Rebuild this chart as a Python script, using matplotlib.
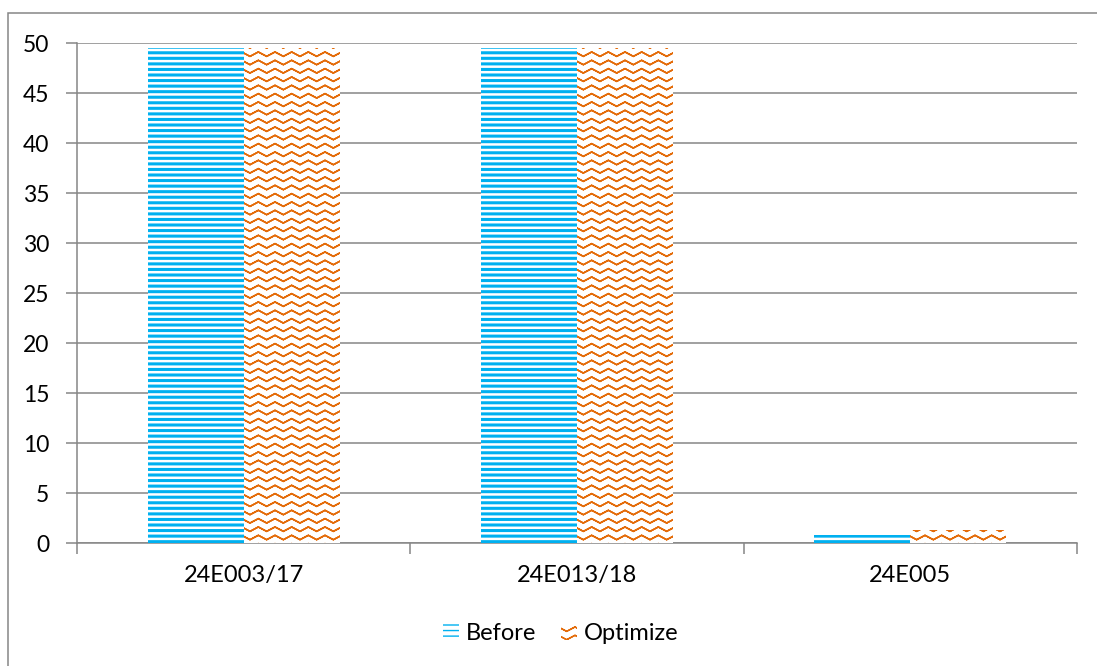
import warnings
import numpy as np
import matplotlib
matplotlib.use("Agg")
import matplotlib.pyplot as plt
import matplotlib.hatch as mhatch
from matplotlib.path import Path
from matplotlib.patches import Rectangle, Patch

warnings.filterwarnings("ignore")

categories = ["24E003/17", "24E013/18", "24E005"]
before = [49.5, 49.5, 0.8]
optimize = [49.5, 49.5, 1.3]
series_names = ["Before", "Optimize"]
yticks = list(range(0, 51, 5))

BLUE = "#00B0F0"
ORANGE = "#E46C0A"
GRID = "#868686"


class ZigzagHatch(mhatch.HatchPatternBase):
    """Rows of zigzag lines, one row set per 'z' in the hatch string.

    Each row is traced forward and back so the stroke encloses no area
    and the hatch fill stays empty."""

    def __init__(self, hatch, density):
        n = hatch.count("z")
        self.rows = int(2 * n * density)
        self.periods = int(n * density)
        self.pts = 2 * self.periods + 1
        self.per_row = 2 * self.pts
        self.num_vertices = self.rows * self.per_row

    def set_vertices_and_codes(self, vertices, codes):
        amp = 0.022
        xs = np.linspace(0.0, 1.0, self.pts)
        offs = np.where(np.arange(self.pts) % 2 == 0, -amp, amp)
        xs2 = np.concatenate([xs, xs[::-1]])
        offs2 = np.concatenate([offs, offs[::-1]])
        for r in range(self.rows):
            y0 = (r + 0.5) / self.rows
            sl = slice(r * self.per_row, (r + 1) * self.per_row)
            vertices[sl, 0] = xs2
            vertices[sl, 1] = y0 + offs2
            codes[sl] = Path.LINETO
            codes[r * self.per_row] = Path.MOVETO


if ZigzagHatch not in mhatch._hatch_types:
    mhatch._hatch_types.append(ZigzagHatch)

plt.rcParams["font.family"] = ["Lato", "DejaVu Sans"]
FS = 17

fig = plt.figure(figsize=(10.97, 6.66), dpi=100)
W, H = 1097, 666
ax = fig.add_axes([77 / W, 123 / H, 1000 / W, 500 / H])

# chart frame
fig.patches.append(Rectangle((8 / W, -0.1), 1.2, (666 - 13) / H + 0.1,
                             transform=fig.transFigure, fill=False,
                             edgecolor=GRID, linewidth=1.1, zorder=0))

x = np.arange(len(categories)) + 0.5
bw = 0.288


def hatched_bars(xpos, vals, color, hatch, hlw):
    with plt.rc_context({"hatch.linewidth": hlw}):
        bars = ax.bar(xpos, vals, width=bw, facecolor="white",
                      edgecolor=color, linewidth=0, hatch=hatch, zorder=3)
    for b in bars:
        try:
            b.set_hatch_linewidth(hlw)
        except AttributeError:
            pass
    return bars


hatched_bars(x - bw / 2, before, BLUE, "---", 2.2)
hatched_bars(x + bw / 2, optimize, ORANGE, "z", 1.1)

ax.set_xlim(0, 3)
ax.set_ylim(0, 50)
ax.set_yticks(yticks)
ax.yaxis.grid(True, color=GRID, linewidth=1.1)
ax.set_axisbelow(True)

ax.set_xticks([0, 1, 2, 3])
ax.set_xticklabels([])
ax.set_xticks(x, minor=True)
ax.set_xticklabels(categories, minor=True, fontsize=FS)
ax.tick_params(axis="x", which="minor", length=0, pad=16)
ax.tick_params(axis="x", which="major", length=8, width=1.1, color=GRID,
               direction="out")
ax.tick_params(axis="y", length=8, width=1.1, color=GRID, direction="out",
               labelsize=16.5, pad=12)

for side in ["top", "right"]:
    ax.spines[side].set_visible(False)
for side in ["left", "bottom"]:
    ax.spines[side].set_color(GRID)
    ax.spines[side].set_linewidth(1.1)

handles = []
for name, color, hatch, hlw in [(series_names[0], BLUE, "---", 2.2),
                                (series_names[1], ORANGE, "z", 1.1)]:
    with plt.rc_context({"hatch.linewidth": hlw}):
        p = Patch(facecolor="white", edgecolor=color, linewidth=0,
                  hatch=hatch, label=name)
    try:
        p.set_hatch_linewidth(hlw)
    except AttributeError:
        pass
    handles.append(p)

fig.legend(handles=handles, loc="center", bbox_to_anchor=(561 / W, 1 - 634 / H),
           ncol=2, frameon=False, fontsize=FS, handlelength=0.66,
           handleheight=0.66, handletextpad=0.3, columnspacing=1.05)

fig.savefig("out.png", dpi=100, facecolor="white")
